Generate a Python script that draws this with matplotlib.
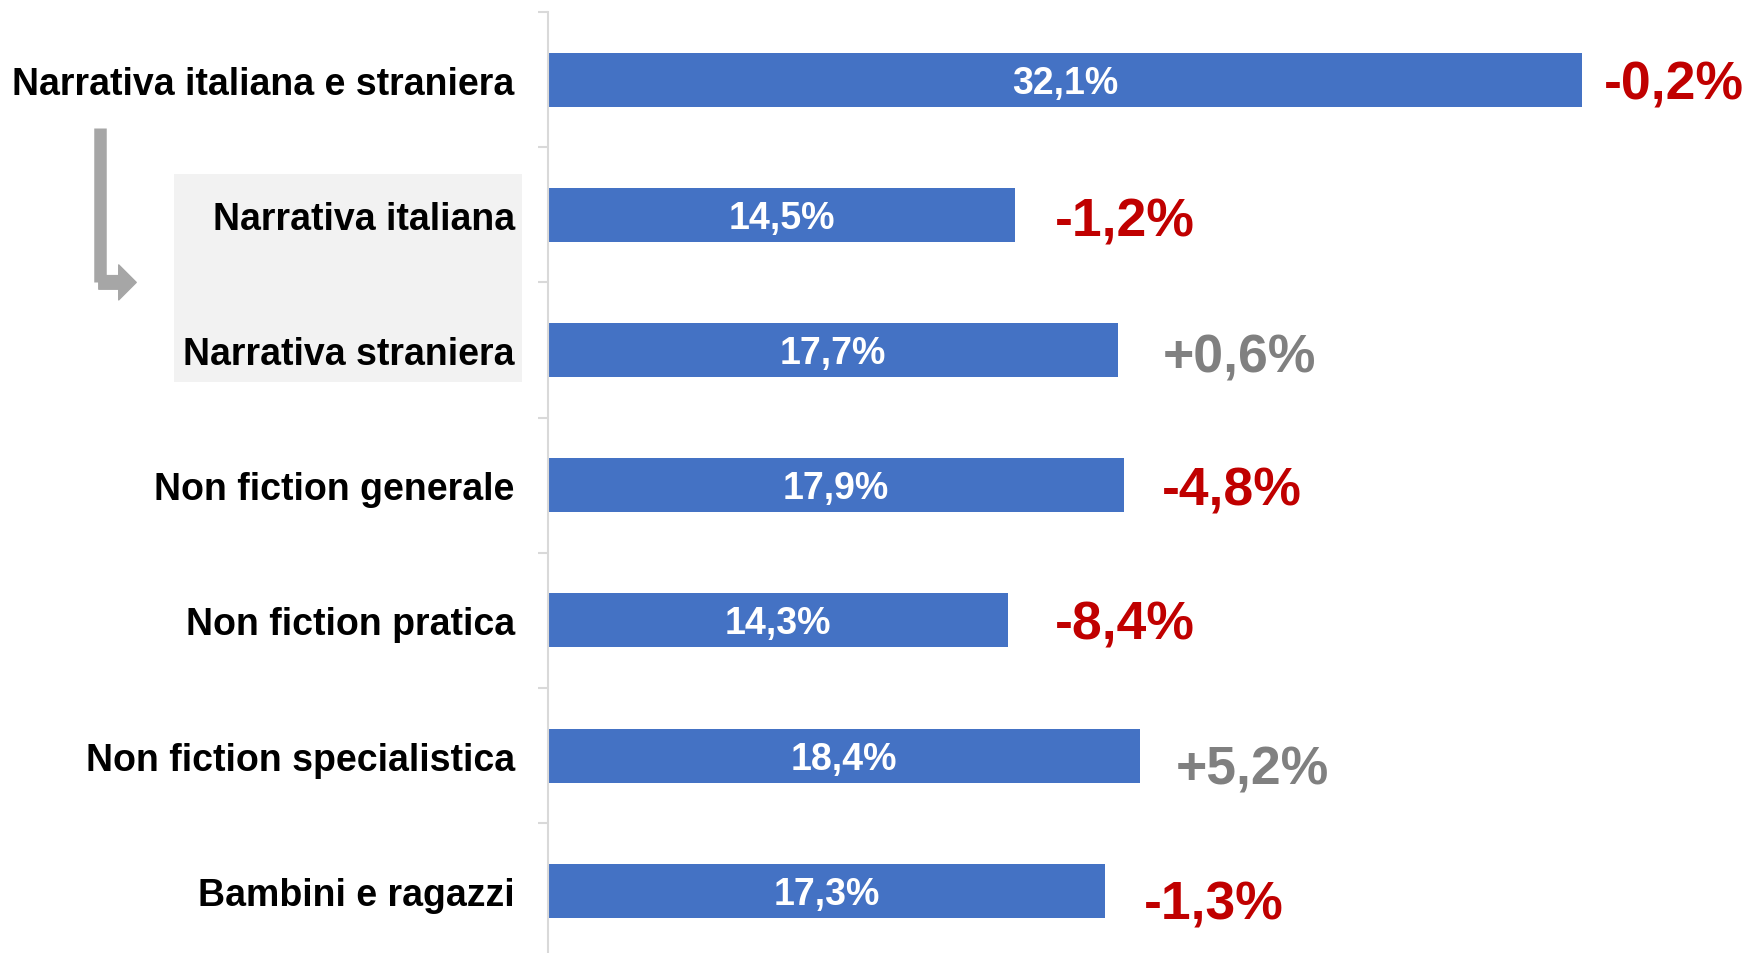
import matplotlib
matplotlib.use("Agg")
import matplotlib.pyplot as plt
from matplotlib.patches import Rectangle, FancyArrowPatch
import matplotlib.transforms as mtransforms

plt.rcParams['font.family'] = ['Liberation Sans', 'DejaVu Sans']

# data
categories = ["Narrativa italiana e straniera", "Narrativa italiana", "Narrativa straniera",
              "Non fiction generale", "Non fiction pratica", "Non fiction specialistica",
              "Bambini e ragazzi"]
shares = [32.1, 14.5, 17.7, 17.9, 14.3, 18.4, 17.3]
share_labels = ["32,1%", "14,5%", "17,7%", "17,9%", "14,3%", "18,4%", "17,3%"]
changes = [-0.2, -1.2, 0.6, -4.8, -8.4, 5.2, -1.3]
change_labels = ["-0,2%", "-1,2%", "+0,6%", "-4,8%", "-8,4%", "+5,2%", "-1,3%"]

# manual nudges of the change labels (pixels: right, down)
nudge_x = [22, 40, 45, 38, 46, 35, 39]
nudge_y = [5, 7, 7, 5, 4, 14, 14]

blue = "#4472C4"
red = "#C00000"
grey = "#808080"

fig = plt.figure(figsize=(17.5, 9.54), dpi=100)
ax = fig.add_axes([548 / 1750, 0, 1 - 548 / 1750, 941 / 954])

y = list(range(len(categories)))
ax.barh(y, shares, height=0.4, color=blue)
ax.set_xlim(0, 37.33)
ax.set_ylim(6.46, -0.5)

for s in ["top", "right", "bottom"]:
    ax.spines[s].set_visible(False)
ax.spines["left"].set_color("#d9d9d9")
ax.spines["left"].set_linewidth(1.5)
ax.set_xticks([])
ax.set_yticks(y)
ax.set_yticklabels(categories, fontsize=27, fontweight="bold")
ax.tick_params(axis="y", which="major", length=0, pad=24)
ax.set_yticks([i - 0.5 for i in range(len(categories))], minor=True)
ax.tick_params(axis="y", which="minor", length=7, width=1.5, color="#d9d9d9")

# values inside bars
for i, v in enumerate(shares):
    ax.annotate(share_labels[i], (v / 2, i), xytext=(0, -3), textcoords="offset pixels",
                color="white", fontsize=27, fontweight="bold", ha="center", va="center")

# change labels
for i, v in enumerate(shares):
    c = red if changes[i] < 0 else grey
    ax.annotate(change_labels[i], (v, i), xytext=(nudge_x[i], -nudge_y[i]),
                textcoords="offset pixels", color=c, fontsize=38.5, fontweight="bold",
                ha="left", va="center")

# grey box behind the two sub-categories
trans = mtransforms.blended_transform_factory(fig.transFigure, ax.transData)
box = Rectangle((174 / 1750, 0.7), (522 - 174) / 1750, 1.54, transform=trans,
                facecolor="#f2f2f2", edgecolor="none", zorder=-1, clip_on=False)
ax.add_patch(box)

# elbow arrow
ax.plot([100 / 1750, 100 / 1750], [0.36, 1.5], transform=trans, color="#a6a6a6",
        lw=9, solid_capstyle="butt", clip_on=False)
arr = FancyArrowPatch((96 / 1750, 1.5), (139 / 1750, 1.5), transform=trans,
                      arrowstyle="simple,head_width=1.8,head_length=0.9,tail_width=0.7",
                      mutation_scale=14, color="#a6a6a6", clip_on=False)
ax.add_patch(arr)

fig.savefig("out.png", dpi=100)
